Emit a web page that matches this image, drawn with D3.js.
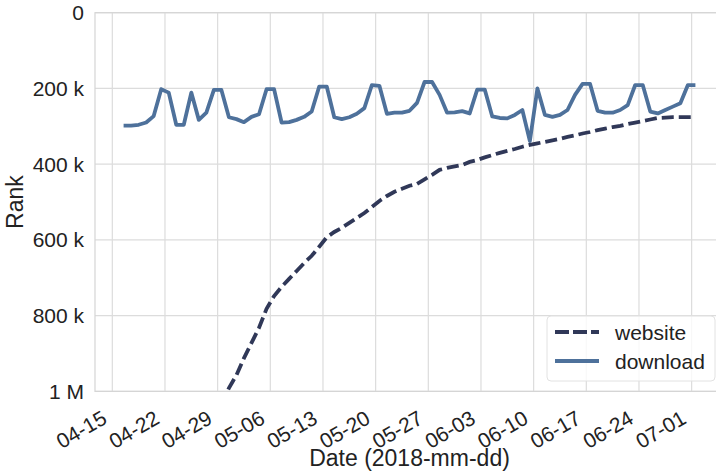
<!DOCTYPE html>
<html>
<head>
<meta charset="utf-8">
<script src="https://cdn.jsdelivr.net/npm/d3@7"></script>
<style>
    body { margin: 0; background: #fff; }
    text { font-family: "Liberation Sans", Arial, sans-serif; fill: #222; }
    .grid-line { stroke: #dcdcdc; stroke-width: 1.2; }
    .frame { fill: none; stroke: #d5d5d5; stroke-width: 1.2; }
    .tick-label { font-size: 21px; }
    .axis-label { font-size: 23px; }
    .website-line { fill: none; stroke: #303858; stroke-width: 3.8; stroke-dasharray: 12 5; }
    .download-line { fill: none; stroke: #4e719b; stroke-width: 3.8; stroke-linejoin: round; }
</style>
</head>
<body>
<div id="rank-graph"></div>
<script>
// first daily sample of each series
const downloadStart = '2018-04-16T12:00';
const websiteStart = '2018-04-29T12:00';

const download = [
    298e3, 298e3, 296e3, 290e3, 273e3, 202e3, 211e3, 296e3, 296e3, 211e3,
    283e3, 264e3, 204e3, 204e3, 276e3, 281e3, 289e3, 275e3, 268e3, 202e3,
    202e3, 290e3, 289e3, 283e3, 275e3, 261e3, 195e3, 195e3, 276e3, 281e3,
    276e3, 267e3, 252e3, 191e3, 193e3, 267e3, 264e3, 264e3, 259e3, 238e3,
    183e3, 183e3, 217e3, 264e3, 263e3, 260e3, 266e3, 203e3, 203e3, 274e3,
    278e3, 279e3, 270e3, 257e3, 339e3, 200e3, 270e3, 275e3, 270e3, 257e3,
    217e3, 188e3, 188e3, 259e3, 264e3, 264e3, 257e3, 244e3, 191e3, 191e3,
    261e3, 266e3, 257e3, 248e3, 239e3, 191e3, 191e3
];

const website = [
    1036e3, 991e3, 957e3, 912e3, 872e3, 832e3, 782e3, 748e3, 724e3, 703e3,
    682e3, 661e3, 642e3, 618e3, 593e3, 579e3, 568e3, 555e3, 542e3, 529e3,
    513e3, 497e3, 484e3, 473e3, 465e3, 457e3, 452e3, 440e3, 428e3, 415e3,
    410e3, 406e3, 402e3, 394e3, 389e3, 382e3, 376e3, 370e3, 365e3, 360e3,
    354e3, 349e3, 345e3, 341e3, 337e3, 333e3, 328e3, 324e3, 319e3, 315e3,
    310e3, 306e3, 302e3, 299e3, 294e3, 290e3, 286e3, 282e3, 278e3, 277e3,
    276e3, 276e3, 276e3, 276e3
];

const xTicks = ['04-15', '04-22', '04-29', '05-06', '05-13', '05-20',
    '05-27', '06-03', '06-10', '06-17', '06-24', '07-01'];
const yTicks = [0, 200e3, 400e3, 600e3, 800e3, 1e6];
const yTickLabels = ['0', '200 k', '400 k', '600 k', '800 k', '1 M'];

const width = 716;
const height = 473;
const plotLeft = 95;
const plotRight = 724;
const plotTop = 12.7;
const plotBottom = 391.4;

const parseTime = d3.timeParse('%Y-%m-%dT%H:%M');
const parseTick = d3.timeParse('%Y-%m-%d');

const toSeries = (start, values) => values.map((v, i) => ({
    time: d3.timeDay.offset(parseTime(start), i),
    rank: v
}));

const downloadData = toSeries(downloadStart, download);
const websiteData = toSeries(websiteStart, website);
const tickDates = xTicks.map(t => parseTick('2018-' + t));

const svg = d3.select('#rank-graph')
    .append('svg')
    .attr('width', width)
    .attr('height', height);

//time scale, padded 5% like the source plot
const t0 = downloadData[0].time;
const t1 = downloadData[downloadData.length - 1].time;
const pad = (t1 - t0) * 0.05;
const xScale = d3.scaleTime()
    .domain([new Date(+t0 - pad), new Date(+t1 + pad)])
    .range([plotLeft, plotRight]);

//rank scale, inverted
const yScale = d3.scaleLinear()
    .domain([0, 1e6])
    .range([plotTop, plotBottom]);

svg.append('clipPath')
    .attr('id', 'plot-clip')
    .append('rect')
    .attr('x', plotLeft)
    .attr('y', plotTop)
    .attr('width', plotRight - plotLeft)
    .attr('height', plotBottom - plotTop);

//grid lines
svg.append('g')
    .selectAll('line')
    .data(yTicks)
    .enter()
    .append('line')
    .classed('grid-line', true)
    .attr('x1', plotLeft)
    .attr('x2', plotRight)
    .attr('y1', d => yScale(d))
    .attr('y2', d => yScale(d));

svg.append('g')
    .selectAll('line')
    .data(tickDates)
    .enter()
    .append('line')
    .classed('grid-line', true)
    .attr('x1', d => xScale(d))
    .attr('x2', d => xScale(d))
    .attr('y1', plotTop)
    .attr('y2', plotBottom);

svg.append('rect')
    .classed('frame', true)
    .attr('x', plotLeft)
    .attr('y', plotTop)
    .attr('width', plotRight - plotLeft)
    .attr('height', plotBottom - plotTop);

//y tick labels
svg.append('g')
    .selectAll('text')
    .data(yTicks)
    .enter()
    .append('text')
    .classed('tick-label', true)
    .attr('x', plotLeft - 11)
    .attr('y', d => yScale(d))
    .attr('dy', '0.36em')
    .attr('text-anchor', 'end')
    .text((d, i) => yTickLabels[i]);

//x tick labels, rotated
svg.append('g')
    .selectAll('text')
    .data(tickDates)
    .enter()
    .append('text')
    .classed('tick-label', true)
    .attr('text-anchor', 'end')
    .attr('transform', d => 'translate(' + (xScale(d) - 4) + ',' + (plotBottom + 31) + ') rotate(-30)')
    .text((d, i) => xTicks[i]);

svg.append('text')
    .classed('axis-label', true)
    .attr('text-anchor', 'middle')
    .attr('x', (plotLeft + plotRight) / 2)
    .attr('y', 466)
    .text('Date (2018-mm-dd)');

svg.append('text')
    .classed('axis-label', true)
    .attr('text-anchor', 'middle')
    .attr('transform', 'translate(23,' + (plotTop + plotBottom) / 2 + ') rotate(-90)')
    .text('Rank');

const rankLine = d3.line()
    .x(d => xScale(d.time))
    .y(d => yScale(d.rank));

//website line
svg.append('path')
    .classed('website-line', true)
    .attr('clip-path', 'url(#plot-clip)')
    .datum(websiteData)
    .attr('d', rankLine);

//download line
svg.append('path')
    .classed('download-line', true)
    .attr('clip-path', 'url(#plot-clip)')
    .datum(downloadData)
    .attr('d', rankLine);

//legend
const legend = svg.append('g')
    .attr('transform', 'translate(547,316)');

legend.append('rect')
    .attr('width', 168)
    .attr('height', 65)
    .attr('rx', 4)
    .attr('fill', 'rgba(255,255,255,0.8)')
    .attr('stroke', '#e2e2e2');

const legendItems = [
    { name: 'website', cls: 'website-line' },
    { name: 'download', cls: 'download-line' }
];

legendItems.forEach((item, i) => {
    const y = 16 + i * 29;
    legend.append('line')
        .classed(item.cls, true)
        .attr('x1', 8)
        .attr('x2', 52)
        .attr('y1', y)
        .attr('y2', y)
        .style('stroke-dasharray', i === 0 ? '14 4' : null);
    legend.append('text')
        .classed('tick-label', true)
        .attr('x', 68)
        .attr('y', y)
        .attr('dy', '0.36em')
        .text(item.name);
});
</script>
</body>
</html>
